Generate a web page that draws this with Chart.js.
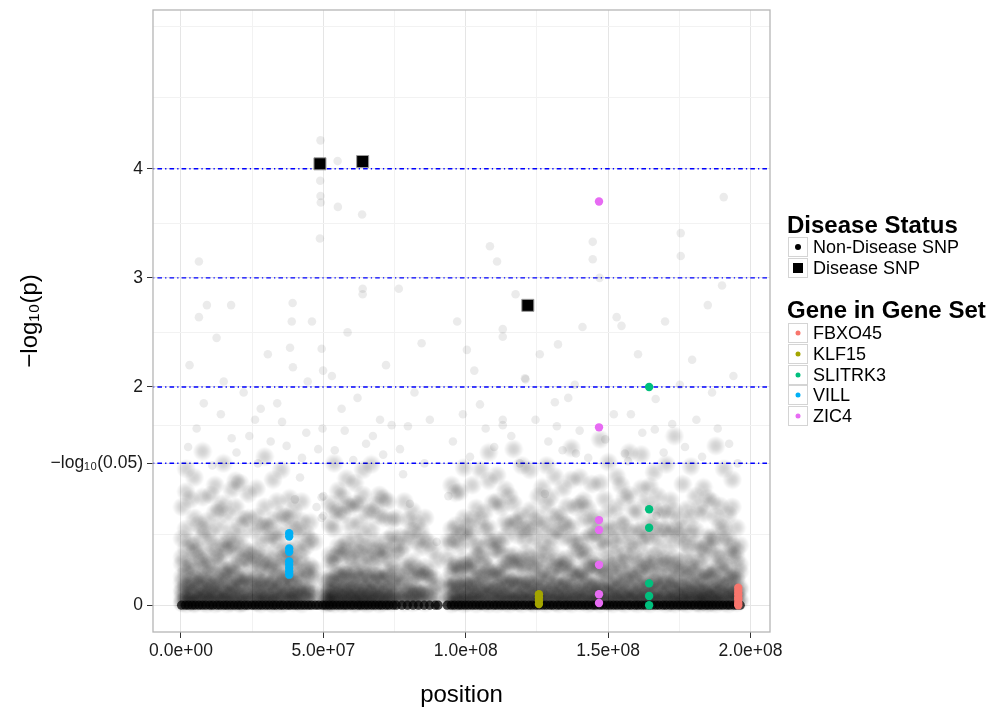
<!DOCTYPE html>
<html>
<head>
<meta charset="utf-8">
<title>SNP p-values by position</title>
<script src="https://cdn.jsdelivr.net/npm/chart.js@4.4.0/dist/chart.umd.min.js"></script>
<style>
  html, body { margin: 0; padding: 0; background: #fff; }
  #wrap { position: relative; width: 996px; height: 711px; font-family: "Liberation Sans", Arial, sans-serif; color: #000; }
  #plot { position: absolute; left: 0; top: 0; }
  .ltitle { position: absolute; left: 787px; font-size: 24px; font-weight: bold; line-height: 28px; white-space: nowrap; }
  .lrow { position: absolute; left: 788px; height: 21px; font-size: 18px; line-height: 21px; white-space: nowrap; }
  .lrow .key { position: absolute; left: 0; top: 0; width: 20px; height: 20px; border: 1px solid #d4d4d4; background: #fff; box-sizing: border-box; }
  .lrow .key i { position: absolute; left: 50%; top: 50%; display: block; transform: translate(-50%, -50%); }
  .lrow span.txt { position: absolute; left: 25px; top: 0; }
  i.dot { width: 6px; height: 6px; border-radius: 50%; background: #000; }
  i.sq { width: 10px; height: 10px; background: #000; }
  i.gdot { width: 5px; height: 5px; border-radius: 50%; }
</style>
</head>
<body>
<div id="wrap">
  <canvas id="plot" width="996" height="711"></canvas>

  <div class="ltitle" style="top:211px">Disease Status</div>
  <div class="lrow" style="top:237px"><span class="key"><i class="dot"></i></span><span class="txt">Non-Disease SNP</span></div>
  <div class="lrow" style="top:258px"><span class="key"><i class="sq"></i></span><span class="txt">Disease SNP</span></div>

  <div class="ltitle" style="top:296px">Gene in Gene Set</div>
  <div id="geneLegend"></div>
</div>

<script>
const MB = 1e6;

// axis breaks (ggplot style: labelled majors plus unlabelled minors)
const xTickVals = [0, 2.5e7, 5e7, 7.5e7, 1e8, 1.25e8, 1.5e8, 1.75e8, 2e8];
const xTickText = ["0.0e+00", "", "5.0e+07", "", "1.0e+08", "", "1.5e+08", "", "2.0e+08"];
const yTickVals = [0, 0.65, 1.30103, 1.65, 2, 2.5, 3, 3.5, 4, 4.65, 5.30103];
const yTickText = ["0", "", "\u2212log\u2081\u2080(0.05)", "", "2", "", "3", "", "4", "", ""];

// significance thresholds (-log10 p)
const thresholds = [4, 3, 2, 1.30103];

// SNPs flagged as disease SNPs
const diseasePos = [4.88e7, 6.38e7, 1.218e8];
const diseaseP = [4.045, 4.066, 2.748];

// SNPs in the gene set, one position per gene
const genes = ["FBXO45", "KLF15", "SLITRK3", "VILL", "ZIC4"];
const geneColors = ["#F8766D", "#A3A500", "#00BF7D", "#00B0F6", "#E76BF3"];
const genePos = [1.957e8, 1.257e8, 1.644e8, 3.80e7, 1.468e8];
const geneP = [
  [0.16, 0.13, 0.10, 0.07, 0.05, 0.02, 0],
  [0.10, 0.07, 0.04, 0.01],
  [2.0, 0.88, 0.71, 0.20, 0.085, 0],
  [0.66, 0.63, 0.52, 0.49, 0.40, 0.37, 0.34, 0.31, 0.28],
  [3.70, 1.63, 0.78, 0.69, 0.37, 0.10, 0.02]
];

// background SNPs with p = 1 (sitting on the zero line), positions in Mb
const zeroPos = [0.2,1.5,2.6,3.9,5.0,6.3,7.5,8.7,10.1,11.2,12.6,13.7,15.0,16.1,17.4,18.6,19.9,21.0,22.4,23.5,24.9,26.0,27.3,28.5,29.8,31.0,32.3,33.4,34.8,35.9,37.3,38.4,39.7,40.9,42.2,43.4,44.7,45.8,47.2,48.3,49.7,50.8,52.1,53.3,54.6,55.8,57.1,58.2,59.6,60.7,62.1,63.2,64.5,65.7,67.0,68.2,69.5,70.6,72.0,73.1,74.5,75.6,77.6,79.5,81.5,83.4,85.4,87.3,89.3,90.3,
  93.5,94.9,96.0,97.4,98.5,99.8,101.0,102.3,103.5,104.8,105.9,107.3,108.4,109.8,110.9,112.2,113.4,114.7,115.9,117.2,118.3,119.7,120.8,122.2,123.3,124.6,125.8,127.1,128.3,129.6,130.7,132.1,133.2,134.6,135.7,137.0,138.2,139.5,140.7,142.0,143.1,144.5,145.6,147.0,148.1,149.4,150.6,151.9,153.1,154.4,155.5,156.9,158.0,159.4,160.5,161.8,163.0,164.3,165.5,166.8,167.9,169.3,170.4,171.8,172.9,174.2,175.4,176.7,177.9,179.2,180.3,181.7,182.8,184.2,185.3,186.6,187.8,189.1,190.3,191.6,192.7,194.1,195.2,196.4];

// background SNP cloud, grouped by position (Mb)
const cloudPos = [0.4,1.8,3.3,4.7,6.2,7.6,9.1,10.5,12.0,13.4,14.9,16.3,17.8,19.2,20.7,22.1,23.6,25.0,26.5,27.9,29.4,30.8,32.3,33.7,35.2,36.6,38.1,39.5,41.0,42.4,43.9,45.3,46.8,
  50.9,52.3,53.8,55.2,56.7,58.1,59.6,61.0,62.5,63.9,65.4,66.8,68.3,69.7,71.2,72.6,74.1,75.5,77.0,78.4,79.9,81.3,82.8,84.2,85.7,87.1,88.6,90.0,
  93.6,95.0,96.5,97.9,99.4,100.8,102.3,103.7,105.2,106.6,108.1,109.5,111.0,112.4,113.9,115.3,116.8,118.2,119.7,121.1,122.6,124.0,125.5,126.9,128.4,129.8,131.3,132.7,134.2,135.6,137.1,138.5,140.0,141.4,142.9,144.3,145.8,147.2,148.7,150.1,151.6,153.0,154.5,155.9,157.4,158.8,160.3,161.7,163.2,164.6,166.1,167.5,169.0,170.4,171.9,173.3,174.8,176.2,177.7,179.1,180.6,182.0,183.5,184.9,186.4,187.8,189.3,190.7,192.2,193.6,195.1,196.2];
const cloudP = [
  [.02,.03,.07,.12,.14,.21,.26,.38,.44,.61,.9],
  [.01,.05,.06,.1,.17,.19,.29,.33,.52,.7,1.04,1.25],
  [.03,.04,.09,.11,.18,.22,.35,.41,.58,.97],
  [.01,.02,.06,.11,.13,.2,.24,.31,.49,.55,.8,1.17],
  [.04,.05,.08,.16,.19,.27,.43,.5,.74],
  [.02,.06,.09,.11,.15,.23,.25,.36,.4,.62,.69,.99,1.41],
  [.01,.07,.1,.12,.2,.24,.37,.46,.77],
  [.03,.04,.05,.13,.16,.18,.3,.34,.57,.66,1.01],
  [.01,.06,.09,.1,.19,.2,.28,.45,.53,.85,1.1],
  [.02,.08,.1,.17,.23,.39,.44,.72,.88],
  [.03,.05,.06,.12,.14,.22,.28,.31,.5,.57,.93,1.3],
  [.01,.04,.1,.11,.2,.27,.32,.51,.6,.83],
  [.02,.03,.09,.13,.16,.19,.33,.36,.55,.68,1.06],
  [.04,.05,.11,.17,.24,.29,.47,.56,.9,1.14],
  [.01,.02,.08,.09,.16,.21,.23,.35,.41,.63,.74,1.12],
  [.02,.09,.1,.2,.26,.43,.52,.79],
  [.03,.04,.1,.12,.22,.25,.41,.49,.8,1.02],
  [.05,.07,.17,.2,.37,.46,.69],
  [.02,.03,.08,.12,.15,.24,.28,.43,.5,.81,1.07],
  [.01,.06,.07,.14,.18,.21,.34,.39,.6,.73],
  [.03,.05,.09,.11,.21,.25,.4,.47,.73,.9,1.36],
  [.02,.07,.08,.17,.19,.32,.37,.6,.72],
  [.01,.04,.1,.12,.2,.22,.35,.41,.64,.78,1.15],
  [.03,.05,.06,.14,.15,.26,.3,.49,.6,.95],
  [.01,.07,.09,.18,.21,.35,.42,.67,.83,1.24],
  [.02,.08,.12,.14,.24,.27,.44,.52,.81],
  [.04,.04,.1,.13,.22,.26,.42,.5,.79,.98],
  [.02,.05,.09,.11,.19,.22,.37,.44,.7,.87],
  [.03,.07,.12,.15,.27,.33,.55,.69],
  [.01,.08,.1,.16,.24,.4,.48,.77,.95],
  [.04,.05,.13,.15,.27,.33,.54,.66],
  [.03,.11,.14,.28,.36,.6,.76],
  [.06,.1,.24,.33,.58],

  [.01,.03,.03,.07,.08,.13,.15,.24],
  [.02,.02,.06,.07,.12,.14,.22,.25,.39,.46,.74,.93],
  [.01,.05,.06,.11,.13,.2,.24,.38,.44,.7,.87,1.3],
  [.03,.04,.08,.1,.16,.19,.27,.3,.47,.54,.85,1.05],
  [.01,.06,.07,.13,.15,.25,.29,.45,.53,.83,1.0],
  [.02,.03,.08,.09,.16,.18,.28,.31,.5,.59,.92,1.16],
  [.04,.06,.07,.13,.14,.22,.25,.39,.45,.73,.9],
  [.01,.02,.07,.09,.15,.18,.28,.32,.51,.6,.93,1.12],
  [.03,.05,.06,.12,.13,.23,.26,.41,.48,.76,.93],
  [.02,.03,.08,.09,.16,.18,.29,.34,.54,.65,1.01,1.24],
  [.01,.06,.07,.14,.15,.25,.28,.45,.54,.85],
  [.02,.04,.05,.11,.12,.21,.23,.38,.44,.7,.86,1.29],
  [.03,.06,.08,.15,.16,.27,.31,.5,.59,.92],
  [.01,.05,.06,.13,.14,.24,.27,.44,.52,.82,1.01],
  [.02,.04,.1,.12,.22,.25,.42,.5,.8,.98],
  [.03,.05,.07,.14,.15,.26,.3,.5,.6,.95],
  [.02,.07,.08,.17,.2,.33,.39,.63,.78],
  [.04,.09,.12,.22,.29,.48,.56,.8],
  [.05,.08,.2,.26,.49,.63],
  [.02,.09,.12,.22,.35,.55,.95],
  [.04,.05,.13,.15,.3,.36,.63,.78],
  [.02,.08,.1,.18,.26,.4,.68,.86],
  [.03,.05,.12,.14,.28,.34,.59,.75],
  [.04,.1,.12,.26,.31,.53,.68],
  [.02,.11,.13,.28,.35,.6,.8],
  [.06,.1,.25,.3,.57],
  [.04,.17,.25,.5],
  [.1,.18,.41],

  [.04,.07,.17,.23,.44,.58],
  [.01,.06,.08,.16,.18,.31,.36,.58,.7,1.1],
  [.02,.03,.09,.1,.19,.2,.34,.38,.6,.73,1.03],
  [.03,.06,.07,.15,.17,.29,.33,.54,.66,1.04],
  [.01,.05,.1,.11,.2,.22,.37,.41,.67,.8,1.26],
  [.02,.07,.08,.17,.19,.32,.37,.6,.72],
  [.04,.04,.1,.11,.19,.21,.35,.41,.66,.79,1.1],
  [.01,.06,.08,.14,.18,.25,.33,.46,.54,.89],
  [.03,.05,.12,.13,.25,.28,.46,.55,.78,1.24],
  [.02,.06,.09,.15,.19,.27,.37,.43,.7,.85],
  [.01,.07,.08,.16,.18,.31,.35,.59,.71,1.14,1.4],
  [.04,.05,.13,.14,.26,.29,.5,.58,.94],
  [.01,.06,.07,.15,.16,.27,.3,.51,.6,.95,1.19],
  [.03,.05,.09,.13,.19,.25,.34,.47,.55,.9],
  [.02,.08,.09,.18,.2,.33,.38,.63,.76,1.06],
  [.01,.05,.1,.11,.21,.23,.39,.45,.72,1.0],
  [.03,.04,.11,.12,.22,.24,.4,.46,.76,.93,1.43],
  [.02,.07,.08,.18,.2,.35,.4,.64,.78],
  [.01,.05,.09,.1,.19,.21,.36,.42,.69,.82,1.28],
  [.04,.06,.12,.15,.22,.31,.47,.59,.7],
  [.02,.03,.1,.11,.2,.22,.37,.44,.71,.87,1.24],
  [.01,.07,.08,.17,.19,.33,.38,.63,.77],
  [.03,.04,.05,.12,.13,.23,.26,.42,.5,.8,1.0],
  [.02,.06,.07,.15,.16,.29,.33,.57,.7,1.08],
  [.01,.05,.1,.11,.21,.23,.41,.47,.75,.91,1.28],
  [.04,.06,.13,.15,.27,.31,.53,.62,.99],
  [.02,.03,.09,.1,.19,.2,.35,.4,.68,.81,1.18],
  [.01,.06,.08,.13,.18,.26,.35,.43,.68,.83],
  [.03,.07,.08,.17,.18,.33,.37,.62,.76,1.07],
  [.02,.05,.1,.11,.21,.22,.38,.43,.74,.91],
  [.01,.06,.07,.16,.17,.3,.34,.6,.71,1.15,1.44],
  [.04,.04,.11,.13,.25,.29,.49,.57,.9],
  [.02,.05,.06,.14,.15,.26,.29,.5,.59,.93,1.17],
  [.03,.07,.1,.16,.22,.3,.42,.49,.79,.96],
  [.01,.05,.09,.13,.19,.27,.35,.5,.63,.89],
  [.02,.07,.08,.17,.19,.34,.38,.65,.77,1.11],
  [.03,.04,.09,.1,.18,.2,.36,.41,.66,.8],
  [.01,.06,.07,.15,.16,.3,.34,.58,.71,1.12,1.52],
  [.04,.05,.13,.14,.27,.3,.52,.6,.97],
  [.02,.03,.1,.11,.2,.22,.38,.43,.71,.85,1.31],
  [.01,.07,.08,.16,.18,.32,.36,.6,.7],
  [.03,.05,.06,.13,.14,.25,.28,.47,.55,.9,1.18],
  [.02,.08,.09,.18,.2,.34,.39,.64,.77,1.1],
  [.01,.05,.1,.11,.22,.24,.41,.46,.74,.99],
  [.04,.06,.07,.15,.16,.29,.32,.56,.67,1.01,1.4],
  [.02,.04,.11,.13,.24,.27,.46,.55,.88],
  [.01,.06,.09,.12,.2,.25,.37,.42,.68,.84],
  [.03,.05,.07,.15,.17,.3,.34,.57,.69,1.07,1.38],
  [.02,.06,.09,.14,.19,.26,.36,.46,.62,.95],
  [.01,.07,.08,.17,.19,.34,.38,.63,.76,1.09],
  [.04,.04,.1,.12,.21,.23,.39,.45,.72,.88,1.22],
  [.02,.05,.06,.14,.16,.27,.31,.53,.63,1.0],
  [.03,.08,.09,.19,.21,.36,.43,.7,.86],
  [.01,.05,.1,.11,.2,.22,.38,.43,.7,.84,1.29],
  [.02,.06,.07,.15,.17,.28,.32,.55,.65,.96],
  [.01,.04,.06,.1,.13,.21,.24,.37,.43,.7,.86,1.55],
  [.03,.07,.09,.17,.2,.33,.4,.64,.78],
  [.02,.03,.08,.09,.16,.17,.3,.34,.58,.7,1.11],
  [.01,.05,.06,.12,.14,.25,.28,.46,.56,.88],
  [.04,.04,.1,.11,.19,.21,.35,.4,.66,.8,1.27],
  [.02,.06,.08,.15,.17,.3,.34,.56,.69,1.0],
  [.01,.02,.05,.07,.11,.14,.21,.27,.4,.52,.89],
  [.03,.04,.06,.12,.13,.22,.25,.43,.51,.84,1.08],
  [.01,.02,.07,.08,.14,.16,.28,.31,.55,.63,.98],
  [.02,.06,.07,.14,.15,.27,.3,.52,.62,.95],
  [.01,.03,.05,.09,.12,.17,.24,.33,.45,.6,.81,1.46],
  [.03,.04,.1,.11,.2,.22,.38,.45,.72,.91],
  [.02,.07,.08,.16,.18,.3,.36,.6,.71,1.25],
  [.01,.05,.09,.12,.19,.26,.35,.49,.62,.83],
  [.03,.04,.08,.13,.14,.24,.27,.46,.55,.9,1.15],
  [.02,.06,.11,.12,.23,.26,.43,.5,.71],
  [.04,.05,.14,.16,.31,.37,.55]
];

// isolated higher background SNPs (Mb, -log10 p)
const sparsePos = [49.0,48.9,49.0,49.1,55.1,63.6,48.8,6.3,17.6,63.8,63.8,76.5,38.9,9.1,6.3,39.2,55.0,144.6,144.6,190.6,175.5,175.5,108.5,111.0,132.4,113.0,113.0,121.0,138.3,166.7,185.0,153.0,154.7,113.0,113.0,132.0,166.4,181.0,105.0,100.4,175.2,190.0,138.7,127.8,155.9,131.3,120.8,167.0,37.1,41.8,49.7,48.2,49.4,47.6,49.4,17.8,26.0,40.0,49.9,49.4,38.3,39.3,50.0,50.0,80.4,93.9,89.8,69.9,56.4,76.9,79.7,67.4,87.4,
  3.0,12.5,22.0,30.5,33.8,44.5,58.5,72.0,84.5,97.0,103.0,117.5,126.0,141.0,147.0,160.5,170.0,179.5,194.0,186.5,158.0,136.0,99.0,62.0,28.0,8.0,15.0,46.0,53.0,82.0,
  2.5,5.5,11.0,14.0,19.5,24.0,27.0,31.5,35.5,42.5,44.0,54.0,57.5,60.5,65.0,71.0,74.0,78.0,85.5,95.5,101.5,107.0,110.0,116.0,119.0,124.5,129.0,134.0,140.0,143.0,149.0,152.0,157.0,162.0,169.5,172.5,177.0,183.0,188.5,192.5,195.5];
const sparseP = [4.26,3.89,3.75,3.69,3.65,3.58,3.36,3.15,2.75,2.9,2.85,2.9,2.6,2.75,2.64,2.77,4.07,3.33,3.17,3.74,3.41,3.2,3.29,3.15,2.39,2.53,2.46,2.07,2.02,1.89,2.75,2.64,2.56,1.7,1.65,1.64,1.61,1.7,1.84,2.34,2.02,2.93,1.39,1.02,1.39,1.86,2.08,0.82,1.46,1.17,1.62,1.43,0.99,0.9,0.8,1.53,1.7,0.97,2.15,2.35,2.36,2.18,1.0,0.82,0.93,1.0,0.58,1.7,1.8,1.43,1.64,1.55,1.7,
  2.2,2.45,1.95,2.3,1.85,2.05,2.5,2.2,2.4,2.6,2.15,2.85,2.3,2.55,3.0,2.3,2.6,2.25,2.1,1.95,1.75,1.9,1.75,1.9,1.8,1.85,2.05,2.6,2.1,1.95,
  1.45,1.62,1.28,1.75,1.4,1.55,1.3,1.5,1.68,1.35,1.58,1.42,1.6,1.33,1.48,1.38,1.65,1.2,1.3,1.5,1.36,1.62,1.45,1.55,1.3,1.7,1.5,1.42,1.6,1.35,1.52,1.75,1.32,1.58,1.4,1.66,1.45,1.36,1.62,1.48,1.3];

// ---- build point lists ----
function columnPoints(pos, vals) {
  const pts = [];
  pos.forEach((p, i) => vals[i].forEach((v) => pts.push({ x: p * MB, y: v })));
  return pts;
}
const cloudPoints = columnPoints(cloudPos, cloudP);
const sparsePoints = sparsePos.map((p, i) => ({ x: p * MB, y: sparseP[i] }));
const zeroPoints = zeroPos.map((p) => ({ x: p * MB, y: 0 }));

// soft translucent dot used for the dense background cloud
function softDot(r, a) {
  const s = Math.ceil(r * 2);
  const c = document.createElement("canvas");
  c.width = s;
  c.height = s;
  const g = c.getContext("2d");
  const grad = g.createRadialGradient(s / 2, s / 2, 0, s / 2, s / 2, r);
  grad.addColorStop(0, `rgba(0,0,0,${a})`);
  grad.addColorStop(0.4, `rgba(0,0,0,${a * 0.78})`);
  grad.addColorStop(0.75, `rgba(0,0,0,${a * 0.32})`);
  grad.addColorStop(1, "rgba(0,0,0,0)");
  g.fillStyle = grad;
  g.fillRect(0, 0, s, s);
  return c;
}
const cloudDot = softDot(10, 0.19);

const datasets = [
  {
    label: "Disease SNP",
    data: diseasePos.map((x, i) => ({ x: x, y: diseaseP[i] })),
    pointStyle: "rect",
    pointRadius: 8.5,
    backgroundColor: "#000",
    borderColor: "#9a9a9a",
    borderWidth: 1,
    order: 0,
  },
];
genes.forEach((g, gi) => {
  datasets.push({
    label: g,
    data: geneP[gi].map((v) => ({ x: genePos[gi], y: v })),
    pointRadius: 4.2,
    backgroundColor: geneColors[gi],
    borderWidth: 0,
    order: 1,
  });
});
datasets.push(
  { label: "zero", data: zeroPoints, pointRadius: 4.6, backgroundColor: "rgba(0,0,0,0.7)", borderWidth: 0, order: 2 },
  { label: "sparse", data: sparsePoints, pointRadius: 4.3, backgroundColor: "rgba(0,0,0,0.08)", borderWidth: 0, order: 3 },
  { label: "cloud", data: cloudPoints, pointStyle: cloudDot, pointRadius: 10, borderWidth: 0, order: 4 }
);

// gene legend rows
const geneLegend = document.getElementById("geneLegend");
genes.forEach((g, i) => {
  const row = document.createElement("div");
  row.className = "lrow";
  row.style.top = (323 + i * 20.8).toFixed(1) + "px";
  row.innerHTML = `<span class="key"><i class="gdot" style="background:${geneColors[i]}"></i></span><span class="txt">${g}</span>`;
  geneLegend.appendChild(row);
});

// dot-dash threshold lines, under the points
const thresholdLines = {
  id: "thresholdLines",
  beforeDatasetsDraw(chart) {
    const { ctx, chartArea, scales } = chart;
    ctx.save();
    ctx.strokeStyle = "#0000ff";
    ctx.lineWidth = 1.4;
    ctx.setLineDash([1.3, 3.1, 4.6, 3.1]);
    thresholds.forEach((t) => {
      const y = scales.y.getPixelForValue(t);
      ctx.beginPath();
      ctx.moveTo(chartArea.left, y);
      ctx.lineTo(chartArea.right, y);
      ctx.stroke();
    });
    ctx.restore();
  },
};

// panel border
const panelFrame = {
  id: "panelFrame",
  afterDatasetsDraw(chart) {
    const { ctx, chartArea } = chart;
    ctx.save();
    ctx.strokeStyle = "#b5b5b5";
    ctx.lineWidth = 1.3;
    ctx.strokeRect(chartArea.left, chartArea.top, chartArea.right - chartArea.left, chartArea.bottom - chartArea.top);
    ctx.restore();
  },
};

Chart.defaults.font.family = '"Liberation Sans", Arial, sans-serif';

new Chart(document.getElementById("plot"), {
  type: "scatter",
  data: { datasets: datasets },
  options: {
    responsive: false,
    devicePixelRatio: 1,
    animation: false,
    events: [],
    layout: { padding: { left: 0, top: 5, right: 226, bottom: 0 } },
    plugins: { legend: { display: false }, tooltip: { enabled: false } },
    scales: {
      x: {
        type: "linear",
        min: -0.983e7,
        max: 2.0685e8,
        afterBuildTicks: (scale) => { scale.ticks = xTickVals.map((v) => ({ value: v })); },
        afterFit: (scale) => { scale.height = 79; scale.paddingLeft = 0; scale.paddingRight = 0; },
        ticks: {
          autoSkip: false,
          maxRotation: 0,
          padding: 3,
          color: "#1a1a1a",
          font: { size: 17.5 },
          callback: (v, i) => xTickText[i],
        },
        grid: {
          color: (c) => (xTickText[c.index] === "" ? "#f2f2f2" : "#e5e5e5"),
          tickColor: (c) => (xTickText[c.index] === "" ? "rgba(0,0,0,0)" : "#333"),
          tickLength: 6,
          lineWidth: 1,
        },
        border: { display: false },
        title: { display: true, text: "position", color: "#000", font: { size: 24 }, padding: { top: 0, bottom: 1.6 } },
      },
      y: {
        type: "linear",
        min: -0.2455,
        max: 5.4545,
        afterBuildTicks: (scale) => { scale.ticks = yTickVals.map((v) => ({ value: v })); },
        afterFit: (scale) => { scale.width = 153; scale.paddingTop = 0; scale.paddingBottom = 0; },
        ticks: {
          autoSkip: false,
          padding: 4,
          color: "#1a1a1a",
          font: { size: 17.5 },
          callback: (v, i) => yTickText[i],
        },
        grid: {
          color: (c) => (yTickText[c.index] === "" ? "#f2f2f2" : "#e5e5e5"),
          tickColor: (c) => (yTickText[c.index] === "" ? "rgba(0,0,0,0)" : "#333"),
          tickLength: 6,
          lineWidth: 1,
        },
        border: { display: false },
        title: { display: true, text: "\u2212log\u2081\u2080(p)", color: "#000", font: { size: 24 }, padding: { top: 15.6, bottom: 0 } },
      },
    },
  },
  plugins: [thresholdLines, panelFrame],
});
</script>
</body>
</html>
